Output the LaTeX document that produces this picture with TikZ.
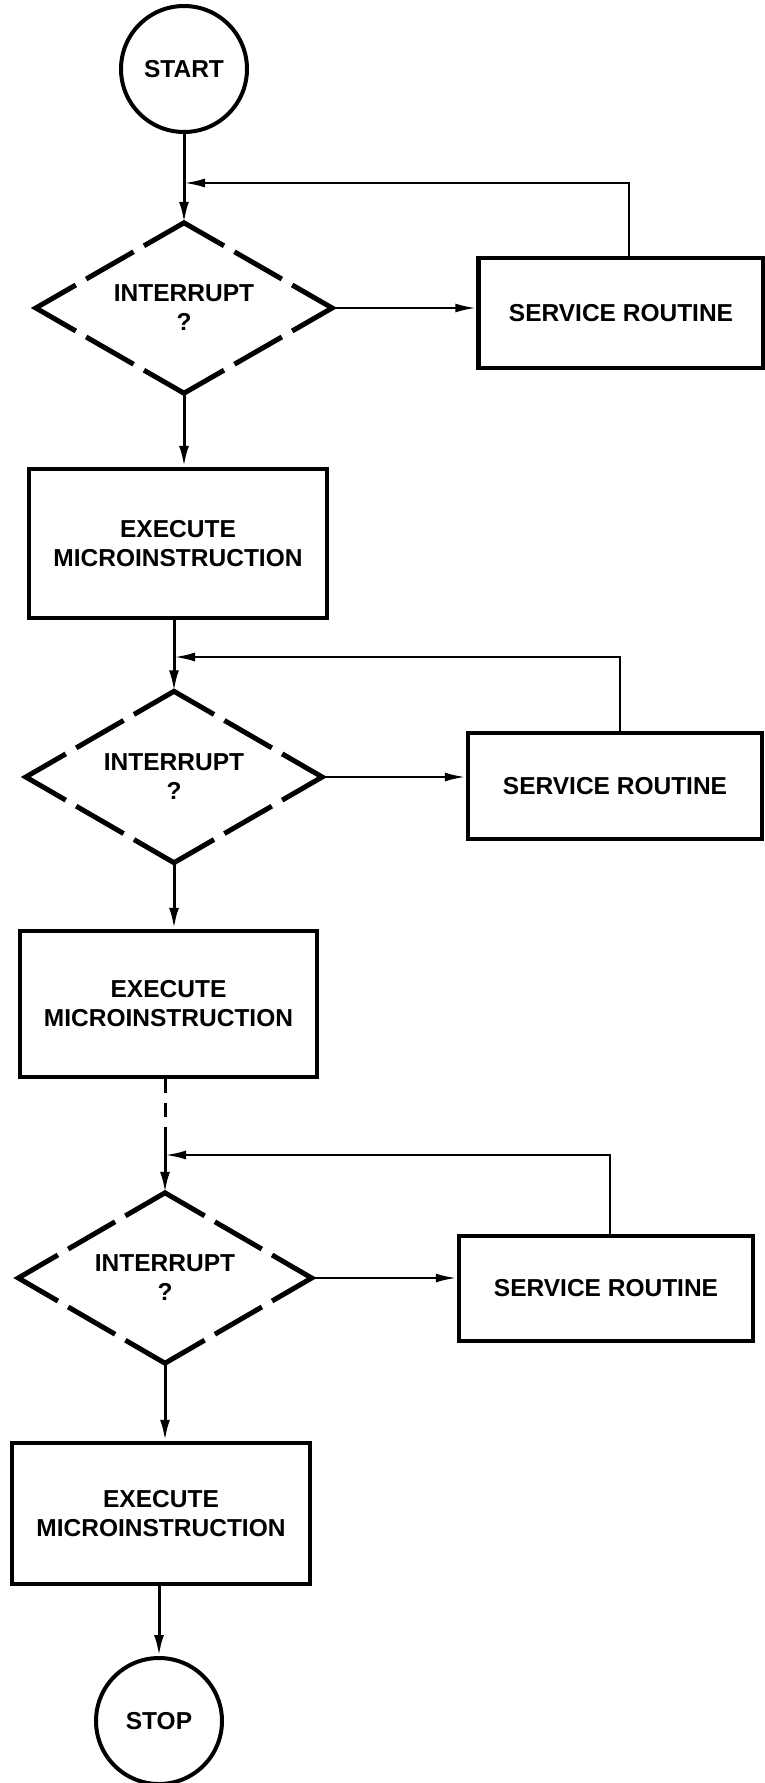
\documentclass[tikz,border=0pt]{standalone}
\usepackage{fontspec}
\setmainfont{Liberation Sans}
\usetikzlibrary{shapes.geometric,arrows.meta,calc}
\newcommand{\dashdiam}[1]{%
  \foreach \pa/\pb/\pc in {north/east/south, east/south/west, south/west/north, west/north/east}{%
    \draw[dshape] ($(#1.\pa)!0.73!(#1.\pb)$) -- (#1.\pb) -- ($(#1.\pb)!0.27!(#1.\pc)$);
  }%
  \foreach \pa/\pb in {north/east, east/south, south/west, west/north}{%
    \draw[dshape] ($(#1.\pa)!0.34!(#1.\pb)$) -- ($(#1.\pa)!0.66!(#1.\pb)$);
  }%
}
\tikzset{
  txt/.style={font=\fontsize{24.5}{29}\selectfont\bfseries, align=center},
  term/.style={txt, circle, draw, line width=4pt, minimum size=126pt, inner sep=0pt},
  box/.style={txt, rectangle, draw, line width=4.5pt, inner sep=0pt},
  dnode/.style={txt, shape=diamond, aspect=1.74, draw=none, inner sep=0pt},
  dshape/.style={line width=5pt, line join=miter},
  conn/.style={line width=3pt, -{Latex[length=21pt,width=10pt]}},
  fb/.style={line width=2.5pt, -{Latex[length=21pt,width=9pt]}},
}
\begin{document}
\begin{tikzpicture}[x=1pt,y=-1pt]
\useasboundingbox (0,0) rectangle (765,1783);
% nodes
\node[term] (start) at (184,69) {START};
\node[dnode, minimum width=296pt, minimum height=170pt] (d1) at (184,308) {INTERRUPT\\?};
\node[box, minimum width=285pt, minimum height=110pt] (sr1) at (621,313) {SERVICE ROUTINE};
\node[box, minimum width=298pt, minimum height=149pt] (e1) at (178,543.5) {EXECUTE\\MICROINSTRUCTION};
\node[dnode, minimum width=296pt, minimum height=171pt] (d2) at (174,777) {INTERRUPT\\?};
\node[box, minimum width=294pt, minimum height=106pt] (sr2) at (615,786) {SERVICE ROUTINE};
\node[box, minimum width=297pt, minimum height=146pt] (e2) at (168.5,1004) {EXECUTE\\MICROINSTRUCTION};
\node[dnode, minimum width=293pt, minimum height=170pt] (d3) at (165,1278) {INTERRUPT\\?};
\node[box, minimum width=294pt, minimum height=105pt] (sr3) at (606,1288.5) {SERVICE ROUTINE};
\node[box, minimum width=298pt, minimum height=141pt] (e3) at (161,1513.5) {EXECUTE\\MICROINSTRUCTION};
\node[term] (stop) at (159,1721) {STOP};
% dashed diamonds
\dashdiam{d1}
\dashdiam{d2}
\dashdiam{d3}
% junction coordinates
\coordinate (j1) at (d1.north |- 0,183);
\coordinate (j2) at (d2.north |- 0,657);
\coordinate (j3) at (d3.north |- 0,1155);
\coordinate (dend) at (d3.north |- 0,1128);
% main flow
\draw[conn] (start.south -| d1.north) -- (d1.north);
\draw[conn] (d1.south) -- (d1.south |- e1.north);
\draw[conn] (e1.south -| d2.north) -- (d2.north);
\draw[conn] (d2.south) -- (d2.south |- e2.north);
\draw[line width=3pt, dash pattern=on 14pt off 10pt] (e2.south -| d3.north) -- (dend);
\draw[conn] (dend) -- (d3.north);
\draw[conn] (d3.south) -- (d3.south |- e3.north);
\draw[conn] (e3.south -| stop.north) -- (stop.north);
% to service routines
\draw[fb] (d1.east) -- (d1.east -| sr1.west);
\draw[fb] (d2.east) -- (d2.east -| sr2.west);
\draw[fb] (d3.east) -- (d3.east -| sr3.west);
% feedback
\draw[fb] ([xshift=8pt]sr1.north) |- (j1);
\draw[fb] ([xshift=5pt]sr2.north) |- (j2);
\draw[fb] ([xshift=4pt]sr3.north) |- (j3);
\end{tikzpicture}
\end{document}
